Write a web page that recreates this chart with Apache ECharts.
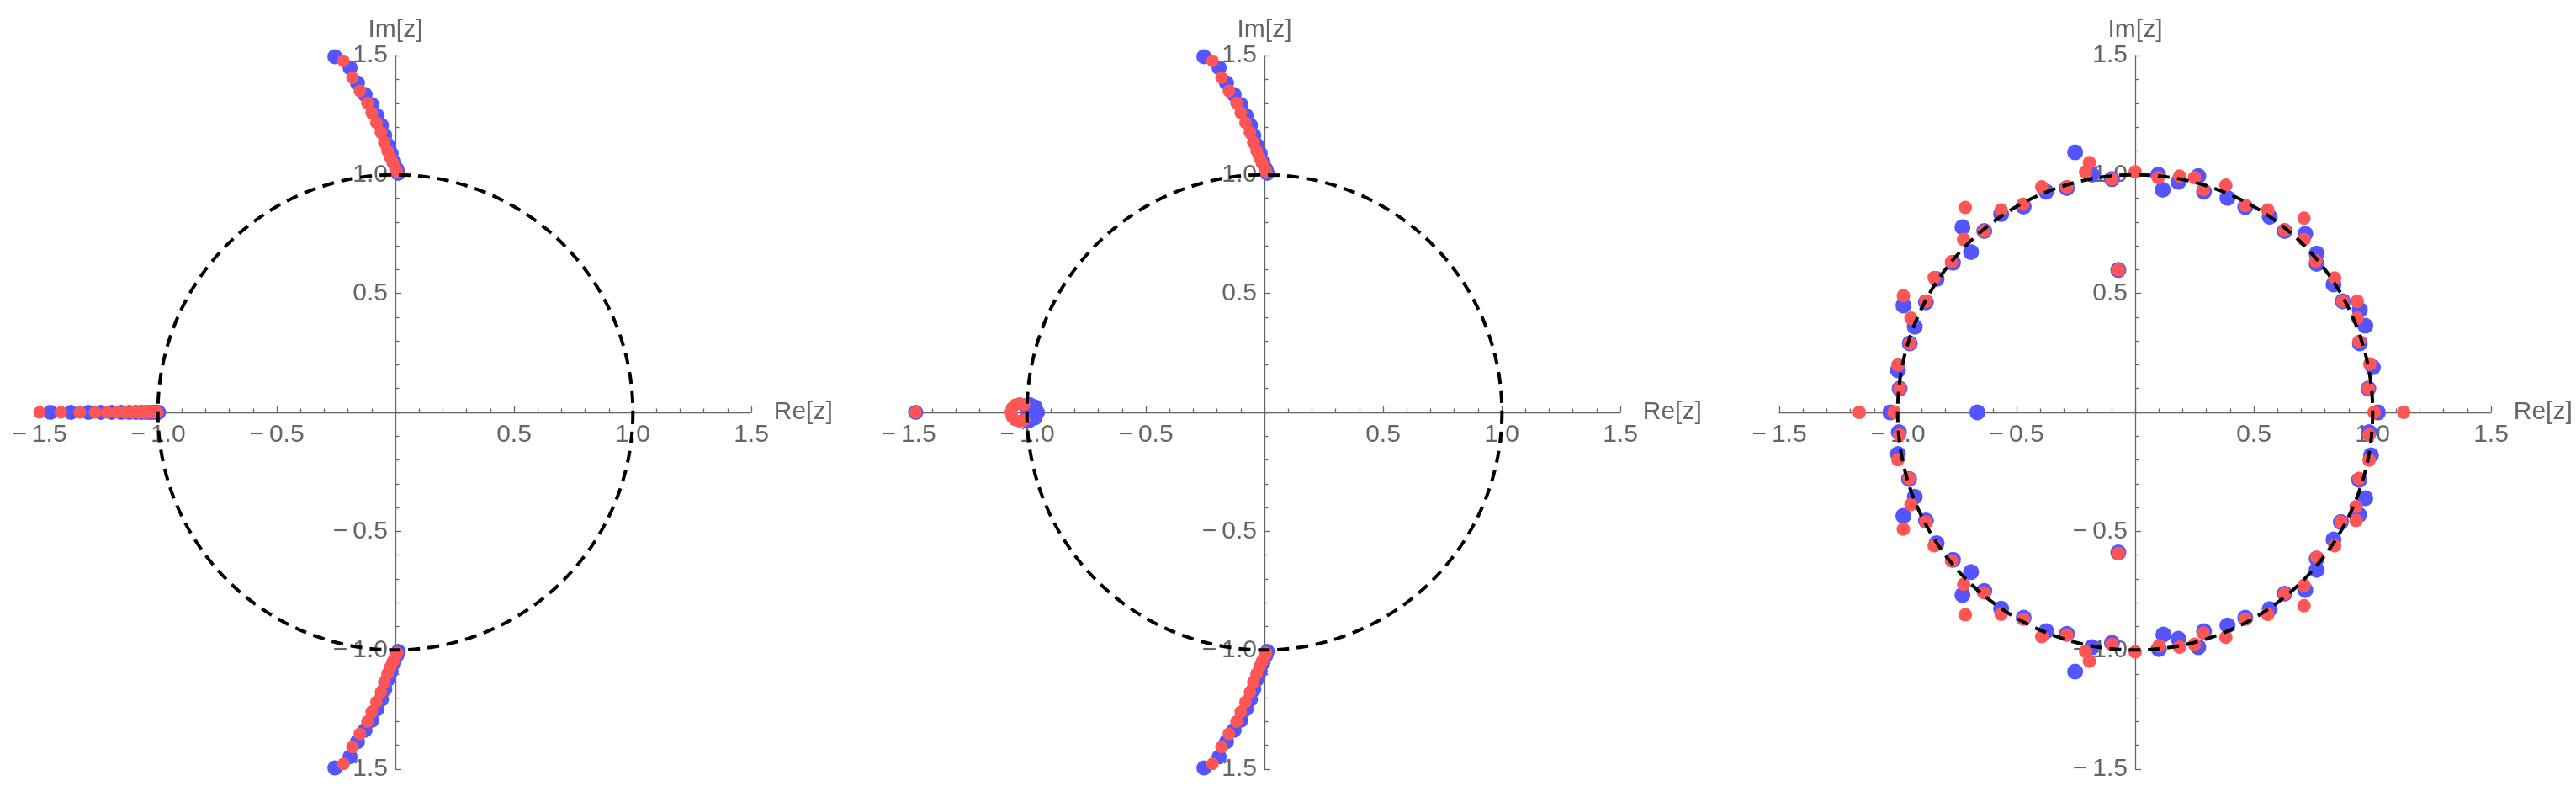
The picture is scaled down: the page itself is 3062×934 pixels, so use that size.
<!DOCTYPE html>
<html style="height: 100%">
<head>
  <meta charset="utf-8">
</head>
<body style="height: 100%; margin: 0; background: #fff">
  <div id="container" style="width: 3062px; height: 934px"></div>

  <script type="text/javascript" src="https://cdn.jsdelivr.net/npm/echarts@6/dist/echarts.min.js"></script>
  <script type="text/javascript">
    // ---- data (x = Re, y = Im) ----
    var branchBlue = [
      [-0.255, 1.495], [-0.191, 1.448], [-0.160, 1.385], [-0.128, 1.336], [-0.100, 1.294],
      [-0.077, 1.247], [-0.059, 1.206], [-0.045, 1.164], [-0.032, 1.123], [-0.018, 1.088],
      [-0.006, 1.052], [0.006, 1.022], [0.012, 1.005],
      [-0.255, -1.495], [-0.191, -1.448], [-0.160, -1.385], [-0.128, -1.336], [-0.100, -1.294],
      [-0.077, -1.247], [-0.059, -1.206], [-0.045, -1.164], [-0.032, -1.123], [-0.018, -1.088],
      [-0.006, -1.052], [0.006, -1.022], [0.012, -1.005]
    ];
    var branchRed = [
      [-0.219, 1.478], [-0.181, 1.407], [-0.150, 1.351], [-0.118, 1.300], [-0.100, 1.259],
      [-0.080, 1.217], [-0.061, 1.176], [-0.047, 1.135], [-0.033, 1.099], [-0.021, 1.070],
      [-0.009, 1.046], [0.002, 1.022], [0.007, 1.011],
      [-0.219, -1.478], [-0.181, -1.407], [-0.150, -1.351], [-0.118, -1.300], [-0.100, -1.259],
      [-0.080, -1.217], [-0.061, -1.176], [-0.047, -1.135], [-0.033, -1.099], [-0.021, -1.070],
      [-0.009, -1.046], [0.002, -1.022], [0.007, -1.011]
    ];
    // panel 1: points on the negative real axis
    var realBlue1 = [-1.454, -1.368, -1.294, -1.241, -1.196, -1.156, -1.122, -1.094,
                     -1.070, -1.050, -1.034, -1.020, -1.008, -0.998];
    var realRed1 = [-1.500, -1.410, -1.330, -1.265, -1.215, -1.173, -1.137, -1.107,
                    -1.082, -1.061, -1.043, -1.028, -1.015, -1.004];
    // panel 2: lone point and the cluster near -1
    var clusterBlue2 = [
      [-1.470, 0], [-0.990, 0.033], [-0.967, 0.023], [-0.957, 0], [-0.967, -0.023],
      [-0.990, -0.033], [-1.005, 0.028], [-1.005, -0.028]
    ];
    var clusterRed2 = [
      [-1.470, 0], [-1.0135, 0.032], [-1.032, 0.037], [-1.0505, 0.032], [-1.064, 0.0185],
      [-1.069, 0], [-1.064, -0.0185], [-1.0505, -0.032], [-1.032, -0.037], [-1.0135, -0.032]
    ];
    // panel 3: points scattered round the unit circle
    var ringBlue3 = [
      [-1.032, 0], [-0.665, 0], [-0.993, 0.100], [-1.0, 0.177], [-0.95, 0.29], [-0.929, 0.36],
      [-0.882, 0.463], [-0.977, 0.449], [-0.837, 0.561], [-0.768, 0.629], [-0.692, 0.674],
      [-0.728, 0.778], [-0.636, 0.762], [-0.565, 0.833], [-0.470, 0.865], [-0.375, 0.928],
      [-0.288, 0.943], [-0.253, 1.093], [-0.182, 0.999], [-0.098, 0.981], [-0.071, 0.599],
      [0.097, 0.999], [0.116, 0.936], [0.182, 0.969], [0.266, 0.993], [0.290, 0.928],
      [0.389, 0.901], [0.464, 0.863], [0.567, 0.822], [0.630, 0.762], [0.717, 0.751],
      [0.765, 0.668], [0.765, 0.624], [0.836, 0.538], [0.875, 0.467], [0.947, 0.431],
      [0.970, 0.364], [0.947, 0.29], [1.002, 0.189], [0.983, 0.100], [1.023, 0],
      [-0.996, -0.083], [-1.0, -0.175], [-0.953, -0.280], [-0.929, -0.355], [-0.977, -0.435],
      [-0.882, -0.455], [-0.837, -0.55], [-0.768, -0.62], [-0.692, -0.671], [-0.728, -0.768],
      [-0.636, -0.751], [-0.565, -0.825], [-0.470, -0.863], [-0.375, -0.920], [-0.288, -0.931],
      [-0.253, -1.090], [-0.182, -0.987], [-0.098, -0.969], [-0.071, -0.589], [0.1, -0.995],
      [0.119, -0.934], [0.182, -0.952], [0.266, -0.987], [0.290, -0.920], [0.389, -0.896],
      [0.464, -0.863], [0.567, -0.827], [0.630, -0.762], [0.717, -0.747], [0.765, -0.662],
      [0.765, -0.615], [0.836, -0.534], [0.867, -0.461], [0.944, -0.431], [0.970, -0.361],
      [0.944, -0.284], [0.994, -0.180], [0.986, -0.083]
    ];
    var ringRed3 = [
      [-1.163, 0], [-1.016, 0], [-0.993, 0.100], [-1.0, 0.199], [-0.95, 0.29], [-0.945, 0.396],
      [-0.882, 0.467], [-0.977, 0.49], [-0.847, 0.567], [-0.774, 0.632], [-0.723, 0.727],
      [-0.716, 0.861], [-0.636, 0.762], [-0.565, 0.851], [-0.473, 0.875], [-0.394, 0.948],
      [-0.288, 0.948], [-0.193, 1.050], [-0.209, 1.011], [-0.098, 0.981], [0, 1.011],
      [-0.071, 0.599], [0.097, 0.987], [0.187, 0.993], [0.250, 0.987], [0.287, 0.936],
      [0.382, 0.955], [0.464, 0.869], [0.559, 0.851], [0.630, 0.766], [0.712, 0.816],
      [0.712, 0.727], [0.761, 0.636], [0.841, 0.565], [0.875, 0.467], [0.936, 0.467],
      [0.936, 0.396], [0.944, 0.298], [0.989, 0.203], [0.983, 0.100], [1.007, 0], [1.132, 0],
      [-0.993, -0.095], [-1.0, -0.199], [-0.953, -0.278], [-0.945, -0.388], [-0.977, -0.491],
      [-0.882, -0.461], [-0.847, -0.561], [-0.774, -0.624], [-0.723, -0.723], [-0.716, -0.851],
      [-0.636, -0.759], [-0.565, -0.849], [-0.470, -0.869], [-0.394, -0.943], [-0.288, -0.936],
      [-0.193, -1.046], [-0.209, -1.005], [-0.098, -0.975], [0, -1.007], [-0.071, -0.593],
      [0.1, -0.981], [0.187, -0.987], [0.250, -0.975], [0.287, -0.928], [0.382, -0.946],
      [0.464, -0.869], [0.559, -0.849], [0.630, -0.762], [0.712, -0.813], [0.712, -0.727],
      [0.765, -0.609], [0.841, -0.561], [0.867, -0.461], [0.931, -0.455], [0.931, -0.396],
      [0.944, -0.278], [0.986, -0.201], [0.986, -0.095]
    ];
    var unitCircle = [[0, 0, 1]]; // centre x, centre y, radius
    var axisMin = -1.5, axisMax = 1.5, axisStep = 0.5;

    var BLUE = '#5555ff', RED = '#ff5555', GRAY = '#666666';
    var FONT = 'Liberation Sans, Arial, sans-serif';
    var GRID_W = 846, GRID_H = 848, GRID_TOP = 66;

    var dom = document.getElementById('container');
    var myChart = echarts.init(dom, null, { renderer: 'canvas' });

    function onAxis(list) {
      return list.map(function (x) { return [x, 0]; });
    }
    function tickText(v) {
      if (Math.abs(v) < 1e-9) return '';
      return (v < 0 ? '\u2212\u2009' : '') + Math.abs(v).toFixed(1);
    }
    // axes are pulled into the middle of each grid so they cross at the origin
    function axis(i, name, isX) {
      return {
        gridIndex: i,
        type: 'value',
        position: isX ? 'bottom' : 'left',
        offset: isX ? -GRID_H / 2 : -GRID_W / 2,
        min: axisMin,
        max: axisMax,
        interval: axisStep,
        name: name,
        nameLocation: 'end',
        nameGap: isX ? 22 : 7,
        nameTextStyle: { color: GRAY, fontSize: 30, fontFamily: FONT },
        axisLine: { onZero: false, lineStyle: { color: GRAY, width: 1.3 } },
        axisTick: { inside: true, length: 7, lineStyle: { color: GRAY, width: 1.3 } },
        minorTick: { show: true, splitNumber: 5, length: 4.5, lineStyle: { color: GRAY, width: 1.3 } },
        splitLine: { show: false },
        minorSplitLine: { show: false },
        axisLabel: {
          formatter: tickText, color: GRAY, fontSize: 30, fontFamily: FONT,
          margin: isX ? 12 : 9, showMinLabel: true, showMaxLabel: true
        }
      };
    }
    function circleItem(params, api) {
      var c = api.coord([api.value(0), api.value(1)]);
      var s = api.size([api.value(2), api.value(2)]);
      return {
        type: 'circle',
        shape: { cx: c[0], cy: c[1], r: (s[0] + s[1]) / 2 },
        style: { fill: 'none', stroke: '#000', lineWidth: 4, lineDash: [14, 9] }
      };
    }
    function dots(i, data, color, size) {
      return {
        type: 'scatter', xAxisIndex: i, yAxisIndex: i, data: data,
        symbol: 'circle', symbolSize: size, itemStyle: { color: color, opacity: 1 },
        silent: true
      };
    }
    function ring(i) {
      return {
        type: 'custom', xAxisIndex: i, yAxisIndex: i, data: unitCircle,
        renderItem: circleItem, silent: true, clip: false, z: 5
      };
    }

    var lefts = [47, 1080, 2115];
    var option = {
      animation: false,
      backgroundColor: '#fff',
      grid: lefts.map(function (l) {
        return { left: l, top: GRID_TOP, width: GRID_W, height: GRID_H, containLabel: false };
      }),
      xAxis: [0, 1, 2].map(function (i) { return axis(i, 'Re[z]', true); }),
      yAxis: [0, 1, 2].map(function (i) { return axis(i, 'Im[z]', false); }),
      series: [
        dots(0, onAxis(realBlue1).concat(branchBlue), BLUE, 18),
        dots(0, onAxis(realRed1).concat(branchRed), RED, 15),
        ring(0),
        dots(1, clusterBlue2.concat(branchBlue), BLUE, 18),
        dots(1, clusterRed2.concat(branchRed), RED, 15),
        ring(1),
        dots(2, ringBlue3, BLUE, 19),
        dots(2, ringRed3, RED, 16),
        ring(2)
      ]
    };

    myChart.setOption(option);
    window.addEventListener('resize', myChart.resize);
  </script>
</body>
</html>
